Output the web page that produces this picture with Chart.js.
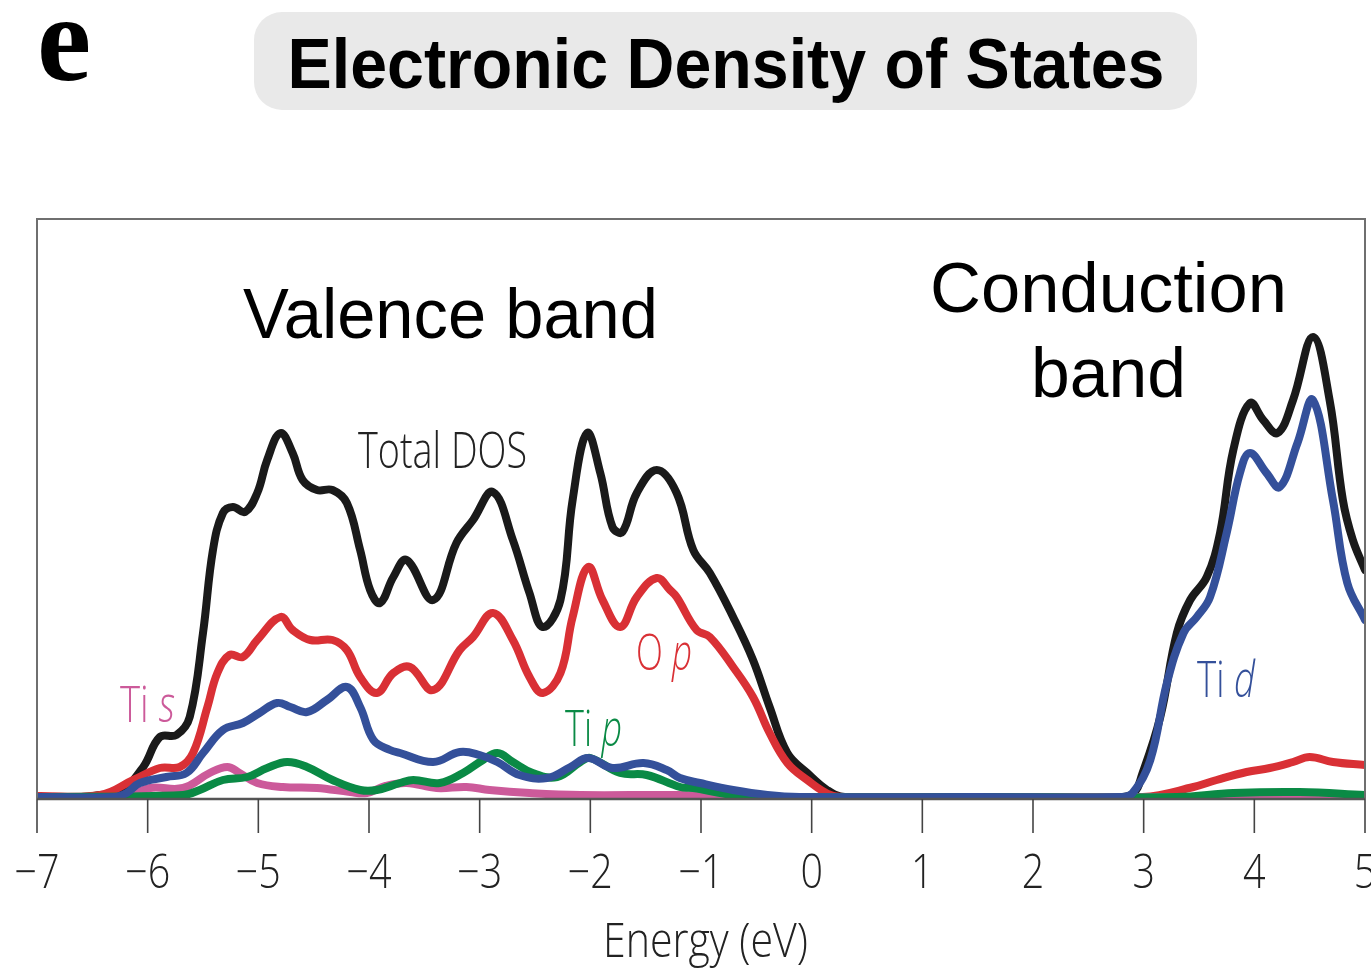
<!DOCTYPE html>
<html>
<head>
<meta charset="utf-8">
<script src="https://cdn.jsdelivr.net/npm/chart.js@4.4.0/dist/chart.umd.min.js"></script>
<style>
  html, body { margin: 0; padding: 0; background: #fff; }
  #wrap { width: 1371px; height: 968px; }
</style>
</head>
<body>
<div id="wrap"><canvas id="dosChart" width="1371" height="968"></canvas></div>
<script>
// energy ticks (eV)
const xTicks = [-7, -6, -5, -4, -3, -2, -1, 0, 1, 2, 3, 4, 5];

// Total DOS
const totalE = [-7, -6.6, -6.43, -6.25, -6.04, -5.89, -5.74, -5.62, -5.5, -5.41, -5.32, -5.23, -5.12, -5.01, -4.92, -4.8, -4.69, -4.6, -4.47, -4.33, -4.2, -4.08, -3.99, -3.9, -3.78, -3.66, -3.42, -3.21, -3.06, -2.88, -2.7, -2.55, -2.43, -2.27, -2.16, -2.03, -1.91, -1.8, -1.71, -1.58, -1.4, -1.22, -1.07, -0.92, -0.71, -0.53, -0.38, -0.22, -0.04, 0.14, 0.3, 1.5, 2.7, 2.9, 2.99, 3.15, 3.3, 3.42, 3.57, 3.69, 3.81, 3.96, 4.08, 4.21, 4.35, 4.53, 4.68, 4.8, 4.89, 5];
const totalDos = [0, 0, 0.2, 0.5, 3.0, 6.0, 6.2, 8.0, 16.4, 24.7, 28.4, 29.0, 28.5, 30.4, 33.7, 36.4, 34.4, 31.7, 30.7, 30.7, 29.4, 24.7, 20.7, 19.4, 22.0, 23.7, 19.7, 25.4, 27.7, 30.5, 25.7, 20.4, 17.0, 19.7, 29.7, 36.4, 32.4, 27.0, 26.5, 30.4, 32.7, 30.4, 24.7, 22.4, 18.0, 13.7, 9.0, 4.4, 2.4, 0.7, 0, 0, 0, 0.3, 2.4, 8.0, 16.4, 19.7, 22.0, 26.4, 34.7, 39.4, 37.7, 36.4, 39.7, 46.0, 39.7, 29.7, 25.7, 22.7];

// O p
const opE = [-7, -6.43, -6.13, -5.89, -5.71, -5.59, -5.46, -5.37, -5.26, -5.14, -5.01, -4.8, -4.69, -4.53, -4.33, -4.2, -4.08, -3.93, -3.78, -3.63, -3.42, -3.18, -3.06, -2.88, -2.7, -2.55, -2.43, -2.27, -2.16, -2.02, -1.89, -1.73, -1.58, -1.4, -1.28, -1.22, -1.04, -0.92, -0.71, -0.53, -0.38, -0.22, -0.04, 0.17, 0.32, 1.5, 2.99, 3.45, 3.66, 3.93, 4.14, 4.35, 4.5, 4.71, 5];
const opDos = [0.1, 0.2, 1.7, 2.9, 3.0, 4.4, 9.0, 12.4, 14.2, 14.0, 15.7, 18.0, 16.7, 15.7, 15.7, 14.7, 12.0, 10.4, 12.4, 13.0, 10.7, 14.7, 16.0, 18.4, 15.7, 12.0, 10.4, 12.4, 18.0, 23.0, 19.7, 17.0, 20.0, 21.9, 20.7, 20.0, 16.7, 16.0, 13.0, 10.0, 6.4, 3.4, 1.7, 0.2, 0, 0, 0, 1.0, 1.7, 2.5, 2.9, 3.5, 4.0, 3.5, 3.2];

// Ti d
const tidE = [-7, -6.3, -6.19, -6.07, -5.83, -5.65, -5.5, -5.32, -5.14, -4.99, -4.83, -4.71, -4.56, -4.38, -4.2, -4.08, -3.96, -3.81, -3.72, -3.42, -3.18, -3.0, -2.84, -2.64, -2.39, -2.18, -2.02, -1.8, -1.52, -1.31, -1.19, -1.01, -0.71, -0.4, -0.11, 1.5, 2.8, 2.9, 3.06, 3.21, 3.36, 3.48, 3.6, 3.75, 3.87, 3.96, 4.11, 4.23, 4.39, 4.53, 4.71, 4.84, 5];
const tidDos = [0, 0, 0.4, 1.4, 2.0, 2.4, 4.4, 6.7, 7.4, 8.4, 9.4, 9.0, 8.5, 9.7, 11.0, 9.0, 5.7, 4.7, 4.4, 3.5, 4.5, 4.2, 3.5, 2.2, 1.9, 3.0, 3.9, 2.9, 3.4, 2.7, 1.9, 1.4, 0.7, 0.2, 0, 0, 0, 0.4, 3.7, 11.4, 16.4, 18.0, 20.0, 26.4, 32.4, 34.4, 32.4, 31.0, 35.4, 39.7, 29.7, 21.4, 17.7];

// Ti p
const tipE = [-7, -5.68, -5.53, -5.32, -5.1, -4.92, -4.74, -4.56, -4.33, -4.08, -3.93, -3.72, -3.6, -3.36, -3.15, -2.97, -2.84, -2.7, -2.52, -2.3, -2.09, -2.0, -1.73, -1.49, -1.19, -1.07, -0.71, -0.4, 1.5, 3.3, 3.81, 4.41, 5];
const tipDos = [0, 0.2, 0.7, 1.7, 2.0, 2.9, 3.5, 3.0, 1.7, 0.7, 0.7, 1.4, 1.7, 1.4, 2.4, 3.7, 4.4, 3.5, 2.4, 2.0, 3.5, 3.9, 2.4, 2.2, 1.0, 0.9, 0.2, 0, 0, 0, 0.4, 0.5, 0.2];

// Ti s
const tisE = [-7, -6.2, -5.98, -5.68, -5.44, -5.28, -5.17, -5.01, -4.78, -4.47, -4.17, -4.02, -3.85, -3.66, -3.39, -3.12, -2.91, -2.55, -2.09, -1.2, -0.5, 1.5, 5];
const tisDos = [0, 0, 0.9, 0.9, 2.4, 3.0, 2.4, 1.4, 1.0, 0.9, 0.5, 0.4, 1.1, 1.4, 0.9, 1.0, 0.7, 0.4, 0.2, 0.2, 0, 0, 0];

function pts(xs, ys) {
  return xs.map((x, i) => ({ x: x, y: ys[i] }));
}

function line(label, xs, ys, color, order) {
  return {
    label: label,
    data: pts(xs, ys),
    borderColor: color,
    borderWidth: 8,
    pointRadius: 0,
    showLine: true,
    fill: false,
    tension: 0.4,
    borderCapStyle: 'round',
    borderJoinStyle: 'round',
    order: order
  };
}

const LIGHT = "'Open Sans', 'Noto Sans', sans-serif";

// draws text made of upright/italic parts, squeezed to a given width
function richText(ctx, parts, x, y, size, color, width, align) {
  let total = 0;
  const ws = parts.map(p => {
    ctx.font = (p.i ? 'italic ' : '') + '300 ' + size + 'px ' + LIGHT;
    const w = ctx.measureText(p.t).width;
    total += w;
    return w;
  });
  const sx = width ? width / total : 1;
  let x0 = x;
  if (align === 'center') x0 = x - total * sx / 2;
  ctx.save();
  ctx.translate(x0, y);
  ctx.scale(sx, 1);
  ctx.fillStyle = color;
  ctx.textBaseline = 'alphabetic';
  ctx.textAlign = 'left';
  let cx = 0;
  parts.forEach((p, k) => {
    ctx.font = (p.i ? 'italic ' : '') + '300 ' + size + 'px ' + LIGHT;
    ctx.fillText(p.t, cx, 0);
    cx += ws[k];
  });
  ctx.restore();
}

function fitText(ctx, txt, font, x, y, width, color, align) {
  ctx.font = font;
  const w = ctx.measureText(txt).width;
  const sx = width / w;
  ctx.save();
  ctx.translate(align === 'center' ? x - width / 2 : x, y);
  ctx.scale(sx, 1);
  ctx.fillStyle = color;
  ctx.textAlign = 'left';
  ctx.textBaseline = 'alphabetic';
  ctx.fillText(txt, 0, 0);
  ctx.restore();
}

const decor = {
  id: 'decor',
  beforeDraw(chart) {
    const ctx = chart.ctx;
    ctx.save();
    ctx.fillStyle = '#fff';
    ctx.fillRect(0, 0, chart.width, chart.height);
    // title box
    ctx.fillStyle = '#e9e9e9';
    ctx.beginPath();
    ctx.roundRect(254, 12, 943, 98, 28);
    ctx.fill();
    fitText(ctx, 'Electronic Density of States', "bold 71px 'Liberation Sans', Arial, sans-serif", 726, 88, 877, '#000', 'center');
    // panel letter
    ctx.fillStyle = '#000';
    ctx.font = "bold 122px 'Liberation Serif', 'Times New Roman', serif";
    ctx.textAlign = 'left';
    ctx.textBaseline = 'alphabetic';
    ctx.fillText('e', 37, 80);
    ctx.restore();
  },
  afterDraw(chart) {
    const ctx = chart.ctx;
    const a = chart.chartArea;
    const xs = chart.scales.x;
    ctx.save();
    // frame
    ctx.strokeStyle = '#6f6f6f';
    ctx.lineWidth = 2;
    ctx.beginPath();
    ctx.moveTo(a.left, a.bottom);
    ctx.lineTo(a.left, a.top);
    ctx.lineTo(a.right, a.top);
    ctx.lineTo(a.right, a.bottom);
    ctx.stroke();
    // x axis line
    ctx.strokeStyle = '#555';
    ctx.lineWidth = 2.5;
    ctx.beginPath();
    ctx.moveTo(a.left, a.bottom);
    ctx.lineTo(a.right, a.bottom);
    ctx.stroke();
    // ticks and labels
    ctx.lineWidth = 1.6;
    ctx.strokeStyle = '#444';
    xTicks.forEach(v => {
      const px = xs.getPixelForValue(v);
      ctx.beginPath();
      ctx.moveTo(px, a.bottom);
      ctx.lineTo(px, a.bottom + 34);
      ctx.stroke();
      const lab = v < 0 ? '\u2212' + Math.abs(v) : String(v);
      ctx.font = '300 47px ' + LIGHT;
      const w = ctx.measureText(lab).width;
      ctx.save();
      ctx.translate(px - w * 0.84 / 2, 888);
      ctx.scale(0.84, 1);
      ctx.fillStyle = '#222';
      ctx.textAlign = 'left';
      ctx.fillText(lab, 0, 0);
      ctx.restore();
    });
    richText(ctx, [{ t: 'Energy (eV)' }], 603, 957, 47, '#222', 205, 'left');

    // band captions
    fitText(ctx, 'Valence band', "70px 'Liberation Sans', Arial, sans-serif", 243, 338, 415, '#000', 'left');
    fitText(ctx, 'Conduction', "70px 'Liberation Sans', Arial, sans-serif", 930, 312, 357, '#000', 'left');
    fitText(ctx, 'band', "70px 'Liberation Sans', Arial, sans-serif", 1031, 397, 155, '#000', 'left');

    // curve labels
    richText(ctx, [{ t: 'Total DOS' }], 358, 468, 50, '#222', 169, 'left');
    richText(ctx, [{ t: 'Ti ' }, { t: 's', i: true }], 120, 722, 50, '#cc5a9a', 55, 'left');
    richText(ctx, [{ t: 'O ' }, { t: 'p', i: true }], 636, 670, 50, '#d93035', 56, 'left');
    richText(ctx, [{ t: 'Ti ' }, { t: 'p', i: true }], 565, 746, 50, '#0a8a45', 57, 'left');
    richText(ctx, [{ t: 'Ti ' }, { t: 'd', i: true }], 1197, 697, 50, '#34509a', 58, 'left');
    ctx.restore();
  }
};

new Chart(document.getElementById('dosChart'), {
  type: 'scatter',
  data: {
    datasets: [
      line('Total DOS', totalE, totalDos, '#1a1a1a', 6),
      line('O p', opE, opDos, '#d93035', 5),
      line('Ti s', tisE, tisDos, '#cc5a9a', 4),
      line('Ti p', tipE, tipDos, '#0a8a45', 3),
      line('Ti d', tidE, tidDos, '#34509a', 2)
    ]
  },
  options: {
    responsive: false,
    animation: false,
    devicePixelRatio: 1,
    layout: { padding: { left: 37, right: 6, top: 219, bottom: 169 } },
    plugins: { legend: { display: false }, tooltip: { enabled: false }, title: { display: false } },
    scales: {
      x: { type: 'linear', min: -7, max: 5, display: false },
      y: { type: 'linear', min: -0.2, max: 57.8, display: false }
    }
  },
  plugins: [decor]
});
</script>
</body>
</html>
